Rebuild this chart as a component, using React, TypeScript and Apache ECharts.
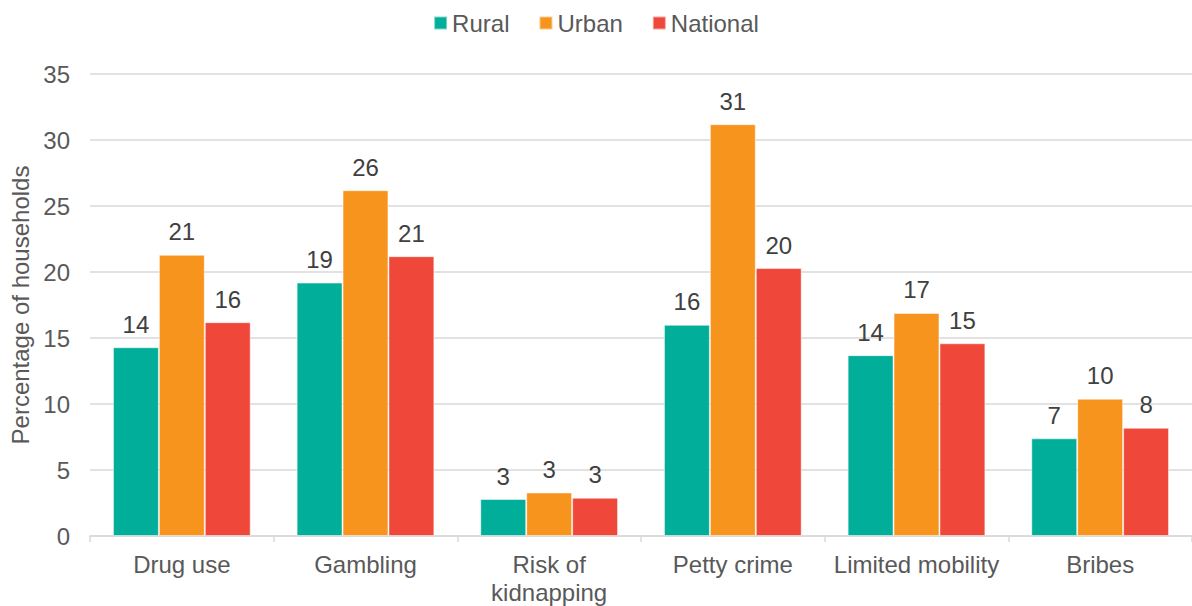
import React, { useEffect, useRef } from "react";
import * as echarts from "echarts";

const categories = ["Drug use", "Gambling", "Risk of\nkidnapping", "Petty crime", "Limited mobility", "Bribes"];
const rural = [14.3, 19.2, 2.8, 16.0, 13.7, 7.4];
const urban = [21.3, 26.2, 3.3, 31.2, 16.9, 10.4];
const national = [16.2, 21.2, 2.9, 20.3, 14.6, 8.2];
const yTicks = { min: 0, max: 35, interval: 5 };

const FONT = "'Liberation Sans', Arial, sans-serif";
const FS = 24;

export default function App() {
  const ref = useRef<HTMLDivElement>(null);
  useEffect(() => {
    if (!ref.current) return;
    const chart = echarts.init(ref.current, undefined, { renderer: "svg" });
    const label = {
      show: true,
      position: "top",
      distance: 11,
      fontSize: FS,
      fontFamily: FONT,
      color: "#404040",
      formatter: (p: any) => String(Math.round(p.value)),
    };
    const mk = (name: string, data: number[], color: string) => ({
      name,
      type: "bar",
      data,
      barGap: "0%",
      barCategoryGap: "25%",
      itemStyle: { color, borderColor: "rgba(255,255,255,0.5)", borderWidth: 1 },
      label,
    });
    chart.setOption({
      animation: false,
      textStyle: { fontFamily: FONT },
      legend: {
        top: 6,
        left: "center",
        itemWidth: 13,
        itemHeight: 13,
        itemGap: 29,
        icon: "rect",
        textStyle: { fontSize: FS, color: "#595959", fontFamily: FONT },
        data: ["Rural", "Urban", "National"],
      },
      grid: { left: 90, right: 0, top: 74, bottom: 68, containLabel: false },
      xAxis: {
        type: "category",
        data: categories,
        axisLine: { lineStyle: { color: "#d9d9d9", width: 1.5 } },
        axisTick: { show: true, length: 6, lineStyle: { color: "#d9d9d9", width: 1.5 } },
        axisLabel: {
          fontSize: FS,
          color: "#595959",
          fontFamily: FONT,
          margin: 14,
          lineHeight: 28,
          interval: 0,
        },
      },
      yAxis: {
        type: "value",
        min: yTicks.min,
        max: yTicks.max,
        interval: yTicks.interval,
        name: "Percentage of households",
        nameLocation: "middle",
        nameGap: 58,
        nameTextStyle: { fontSize: FS, color: "#595959", fontFamily: FONT },
        axisLine: { show: false },
        axisTick: { show: false },
        axisLabel: { fontSize: FS, color: "#595959", fontFamily: FONT, margin: 20 },
        splitLine: { lineStyle: { color: "#d9d9d9", width: 1.5 } },
      },
      series: [
        mk("Rural", rural, "#00AE99"),
        mk("Urban", urban, "#F7941D"),
        mk("National", national, "#EF473A"),
      ],
    });
    return () => chart.dispose();
  }, []);
  return (
    <div
      ref={ref}
      style={{ position: "absolute", left: 0, top: 0, width: 1192, height: 606 }}
    />
  );
}
